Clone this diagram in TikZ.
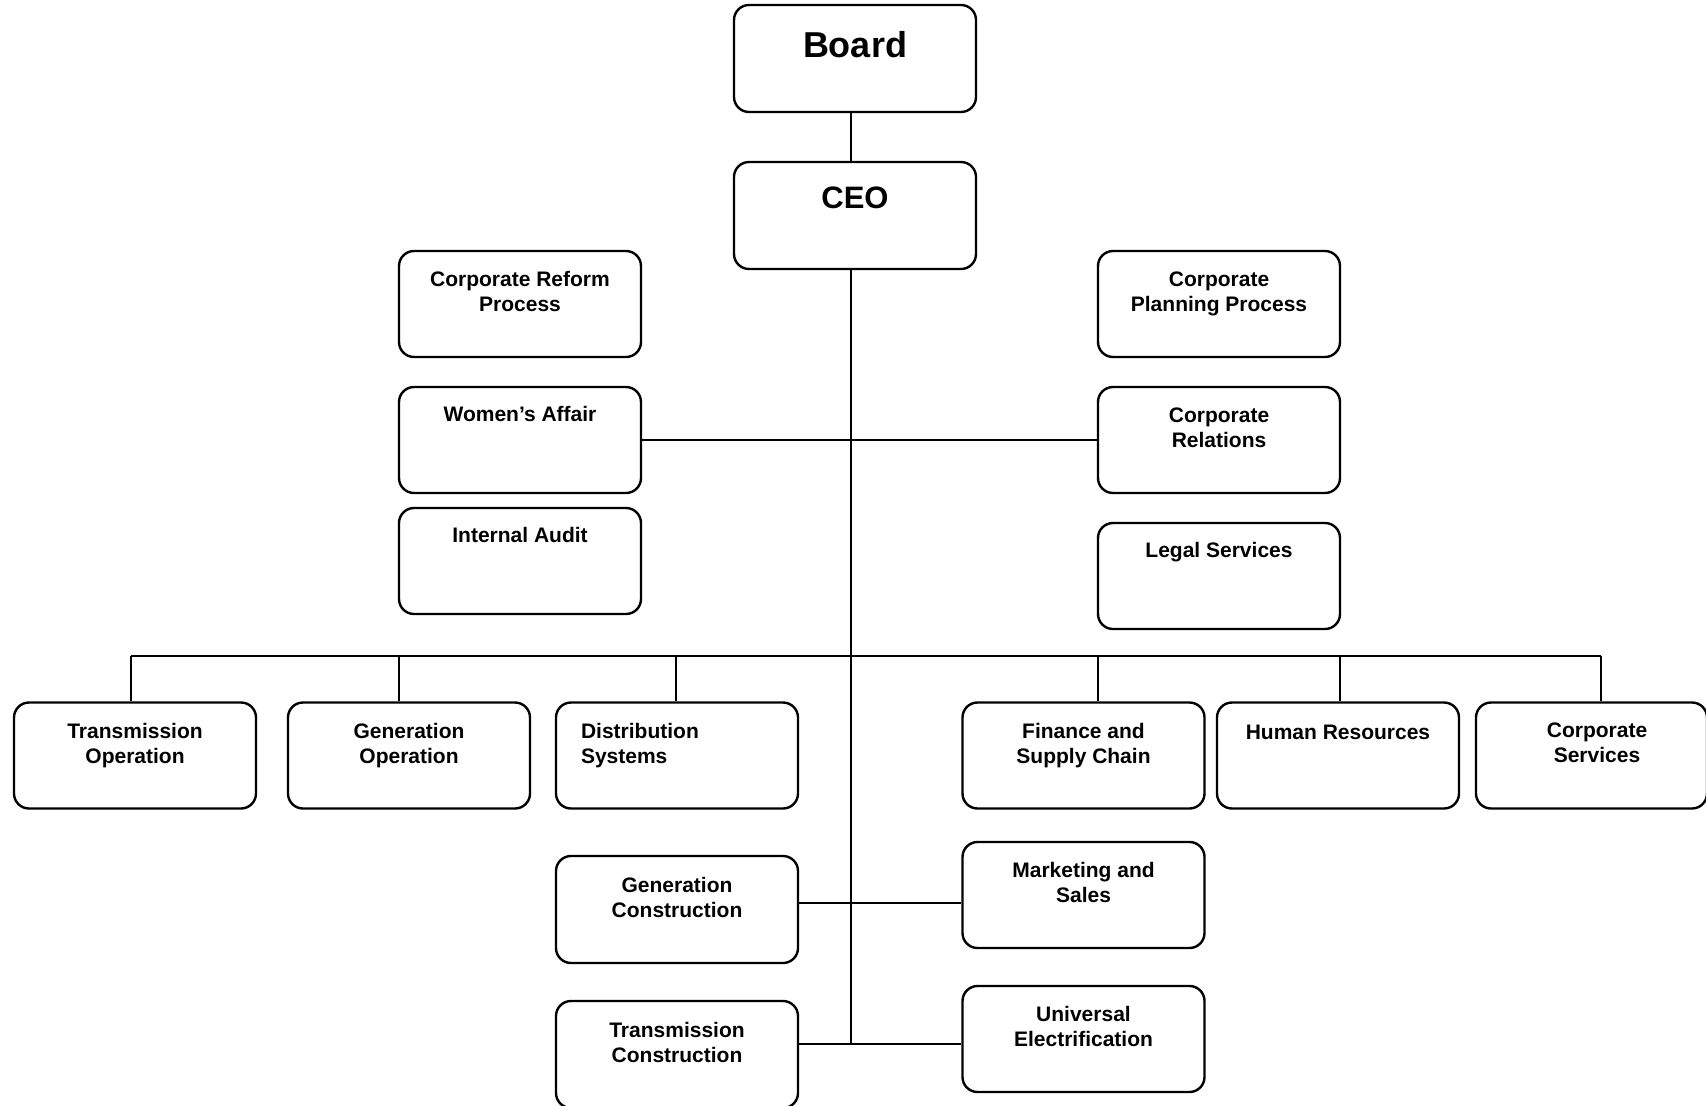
\documentclass[tikz,border=0pt]{standalone}
\usepackage{fontspec}
\setmainfont{Liberation Sans}
\begin{document}
\begin{tikzpicture}[x=1pt,y=-1pt,
  box/.style={draw, line width=2.4pt, rounded corners=15pt, minimum width=242pt, minimum height=106pt, inner sep=0pt},
  lbl/.style={anchor=north, yshift=-21.5pt, inner sep=0pt, align=center, font=\bfseries\fontsize{21}{25}\selectfont, execute at begin node=\strut},
  lbll/.style={lbl, anchor=north west, align=left, xshift=26pt},
  bigb/.style={anchor=base, inner sep=0pt, font=\bfseries\fontsize{36}{40}\selectfont},
  bigc/.style={anchor=base, inner sep=0pt, font=\bfseries\fontsize{31}{36}\selectfont},
  conn/.style={line width=2pt}]
\useasboundingbox (0,0) rectangle (1706,1106);
% top
\node[box, minimum height=107pt, label={[bigb, yshift=-54pt]north:Board}] (board) at (855,58.5) {};
\node[box, minimum height=107pt, label={[bigc, yshift=-48pt]north:CEO}] (ceo) at (855,215.5) {};
% staff left
\node[box, label={[lbl]north:{Corporate Reform\\Process}}] (cr) at (520,304) {};
\node[box, label={[lbl, yshift=3.3pt]north:{Women’s Affair}}] (wa) at (520,440) {};
\node[box, label={[lbl, yshift=3.3pt]north:{Internal Audit}}] (ia) at (520,561) {};
% staff right
\node[box, label={[lbl]north:{Corporate\\Planning Process}}] (cp) at (1219,304) {};
\node[box, label={[lbl]north:{Corporate\\Relations}}] (crel) at (1219,440) {};
\node[box, label={[lbl, yshift=3.3pt]north:{Legal Services}}] (ls) at (1219,576) {};
% bottom row
\node[box, label={[lbl]north:{Transmission\\Operation}}] (to) at (135,755.5) {};
\node[box, label={[lbl]north:{Generation\\Operation}}] (go) at (409,755.5) {};
\node[box, label={[lbll]north west:{Distribution\\Systems}}] (ds) at (677,755.5) {};
\node[box, label={[lbl]north:{Finance and\\Supply Chain}}] (fs) at (1083.5,755.5) {};
\node[box, label={[lbl, yshift=1pt]north:{Human Resources}}] (hr) at (1338,755.5) {};
\node[box, minimum width=231pt, label={[lbl, xshift=5.5pt]north:{Corporate\\Services}}] (cs) at (1591.5,755.5) {};
% lower
\node[box, minimum height=107pt, label={[lbl, yshift=-1pt]north:{Generation\\Construction}}] (gc) at (677,909.5) {};
\node[box, label={[lbl]north:{Marketing and\\Sales}}] (mk) at (1083.5,895) {};
\node[box, minimum height=107pt, label={[lbl, yshift=-1pt]north:{Transmission\\Construction}}] (tc) at (677,1054.5) {};
\node[box, label={[lbl]north:{Universal\\Electrification}}] (ue) at (1083.5,1039) {};
% connector coordinates
\coordinate (t) at (851,0);
\coordinate (l1) at (851,903);
\coordinate (l2) at (851,1044);
\coordinate (b1) at (131,656);
\coordinate (b2) at (399,656);
\coordinate (b3) at (676,656);
\coordinate (b4) at (1098,656);
\coordinate (b5) at (1340,656);
\coordinate (b6) at (1601,656);
% connectors
\draw[conn] (board.south -| t) -- (ceo.north -| t);
\draw[conn] (ceo.south -| t) -- (l2);
\draw[conn] (wa.east) -- (crel.west);
\draw[conn] (b1) -- (b6);
\draw[conn] (b1) -- (b1 |- to.north);
\draw[conn] (b2) -- (b2 |- go.north);
\draw[conn] (b3) -- (b3 |- ds.north);
\draw[conn] (b4) -- (b4 |- fs.north);
\draw[conn] (b5) -- (b5 |- hr.north);
\draw[conn] (b6) -- (b6 |- cs.north);
\draw[conn] (gc.east |- l1) -- (mk.west |- l1);
\draw[conn] (tc.east |- l2) -- (ue.west |- l2);
\end{tikzpicture}
\end{document}
